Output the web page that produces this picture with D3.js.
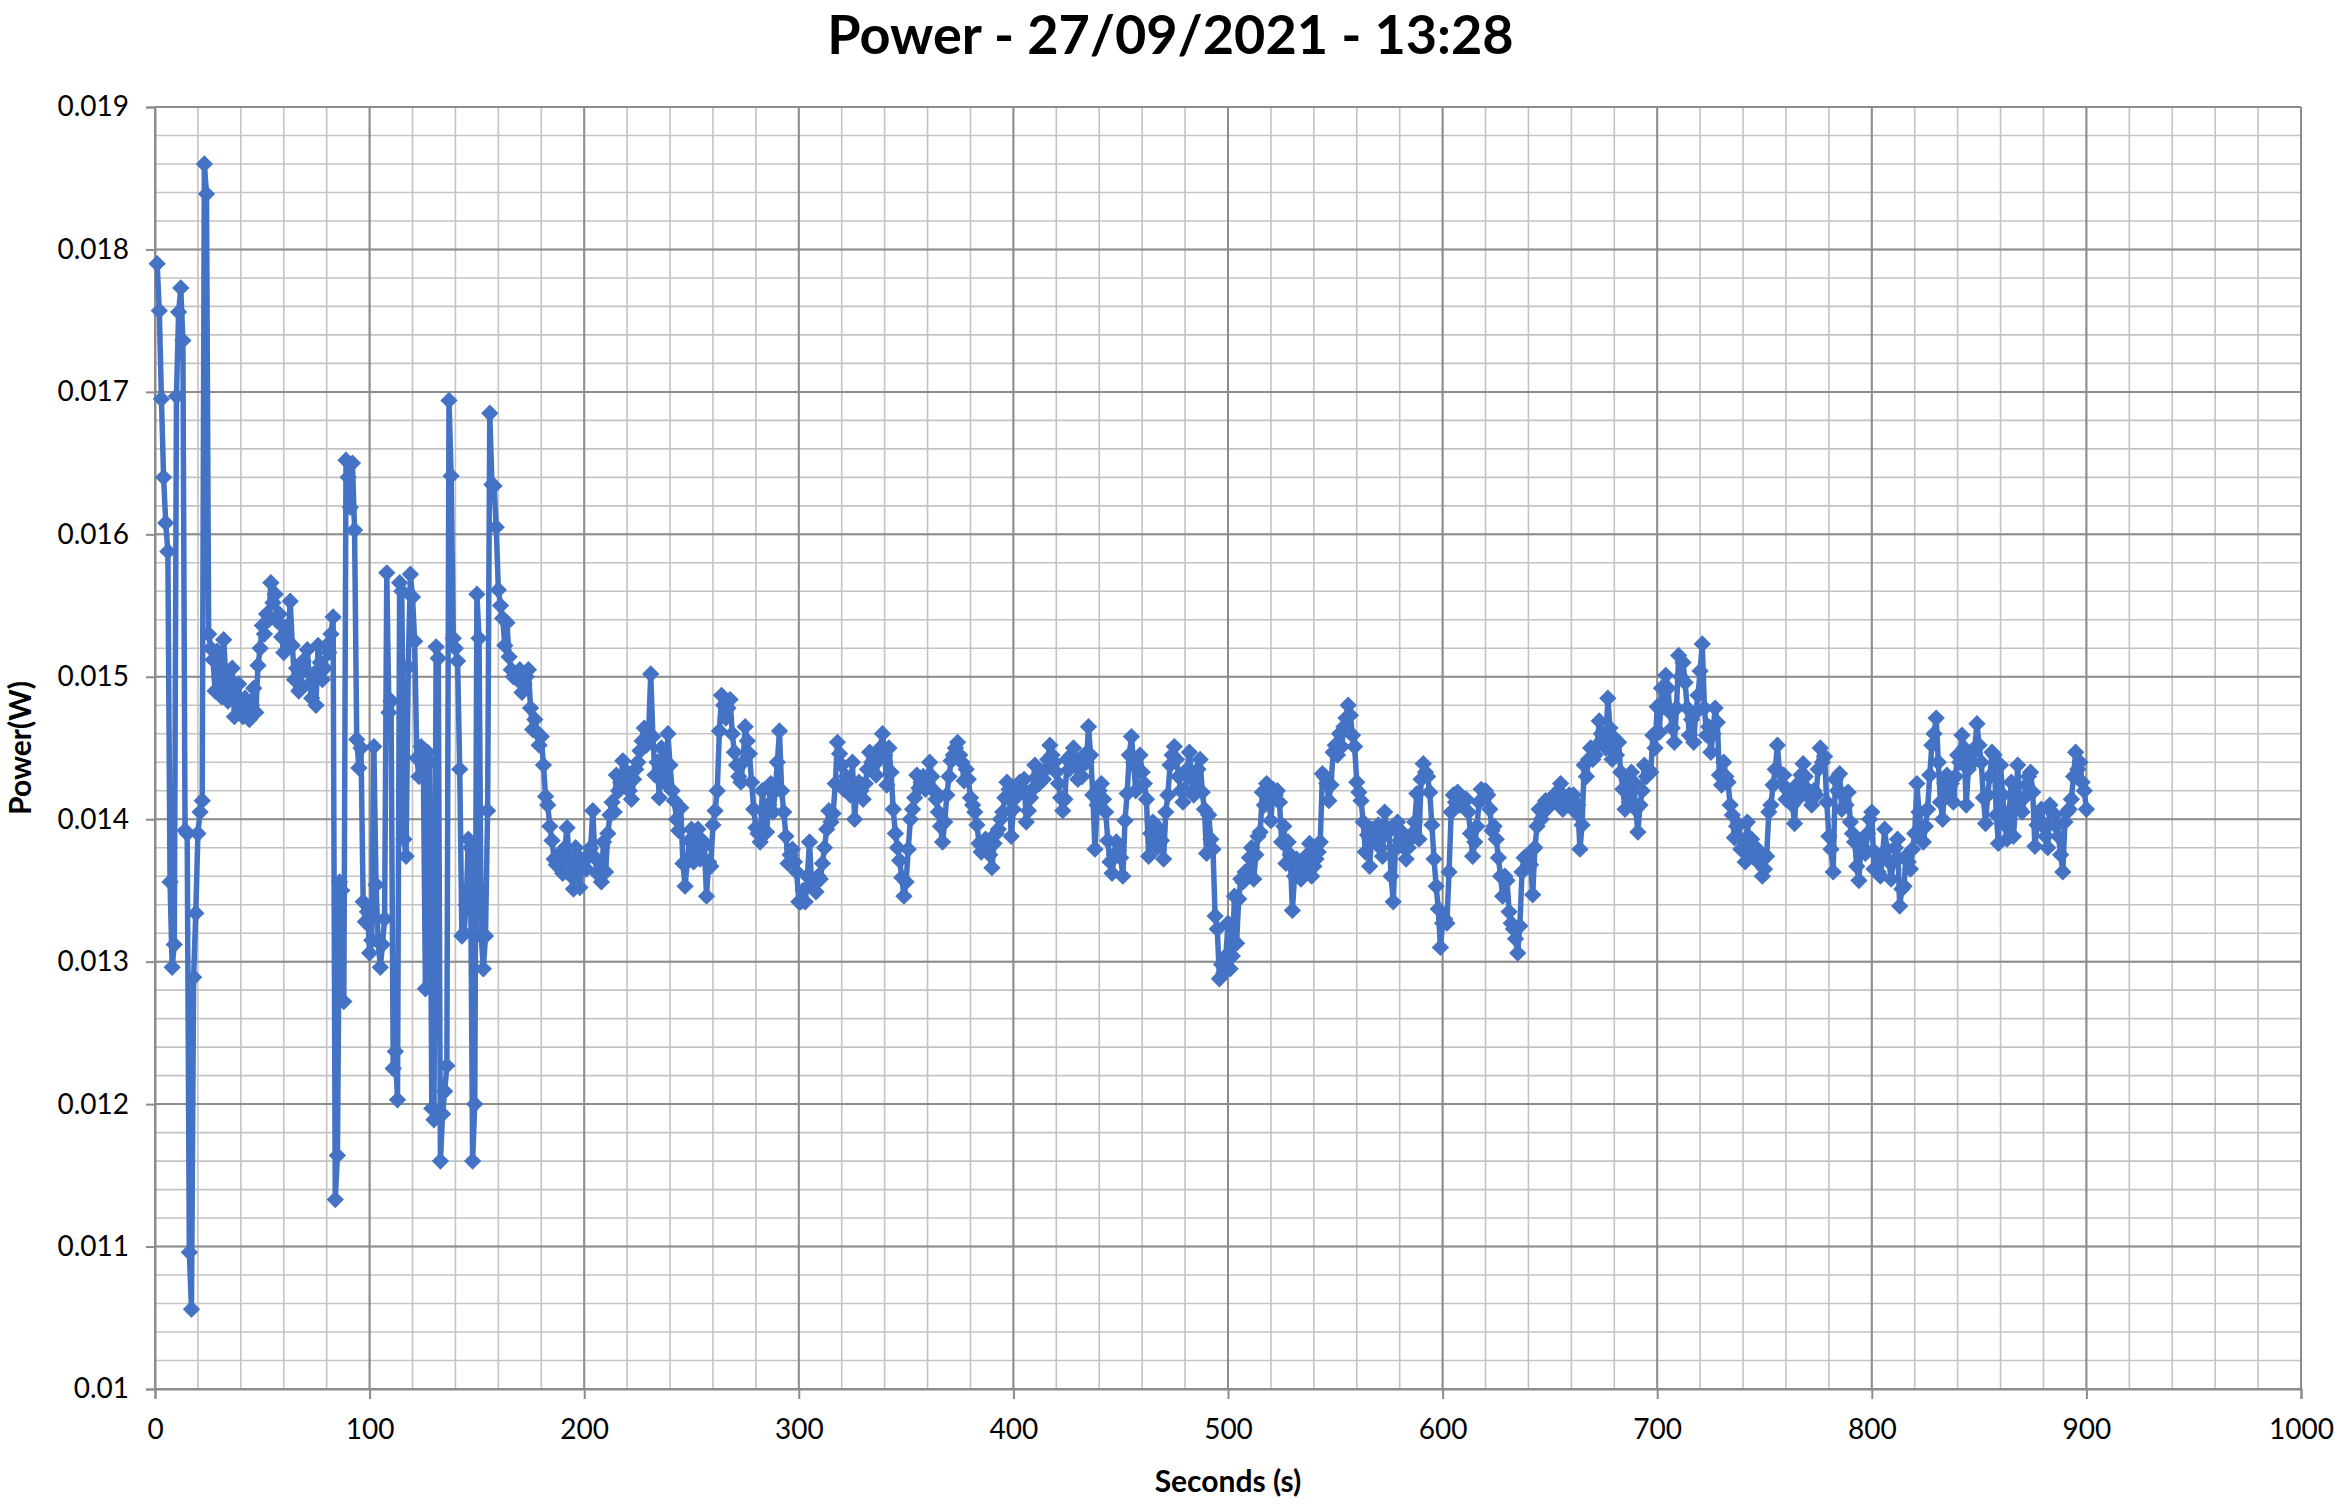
<!DOCTYPE html>
<html>
<head>
<meta charset="utf-8">
<script src="https://cdn.jsdelivr.net/npm/d3@7/dist/d3.min.js"></script>
<style>
  body { margin: 0; background: #fff; }
  text { font-family: Lato, "Open Sans", sans-serif; fill: #000; }
</style>
</head>
<body>
<div id="chart"></div>
<script>
// Power readings in mW, one reading per second, one array per 100 s block
var sec1to100 = [
  17.90, 17.57, 16.95, 16.40, 16.08, 15.88, 13.56, 12.96, 13.12, 16.97,
  17.56, 17.73, 17.36, 13.92, 13.90, 10.96, 10.56, 12.89, 13.34, 13.90,
  14.05, 14.13, 18.60, 18.39, 15.30, 15.20, 15.12, 14.90, 15.18, 15.05,
  14.86, 15.26, 15.00, 14.83, 14.98, 15.06, 14.72, 14.85, 14.95, 14.75,
  14.72, 14.85, 14.78, 14.70, 14.80, 14.92, 14.75, 15.08, 15.20, 15.36,
  15.30, 15.44, 15.40, 15.66, 15.52, 15.58, 15.39, 15.44, 15.28, 15.17,
  15.35, 15.25, 15.53, 15.22, 14.98, 15.06, 14.90, 14.92, 15.11, 15.05,
  15.19, 14.95, 14.85, 15.02, 14.80, 15.22, 15.10, 14.98, 15.06, 15.22,
  15.17, 15.30, 15.42, 11.33, 11.64, 13.56, 13.50, 12.72, 16.52, 16.40,
  16.19, 16.50, 16.03, 14.56, 14.36, 14.50, 13.42, 13.28, 13.35, 13.06
];
var sec101to200 = [
  13.15, 14.51, 13.54, 13.14, 12.96, 13.12, 13.30, 15.73, 14.75, 14.83,
  12.25, 12.37, 12.03, 15.66, 15.60, 13.86, 13.74, 15.07, 15.72, 15.56,
  15.25, 14.43, 14.30, 14.51, 14.45, 12.81, 14.47, 14.40, 11.97, 11.89,
  15.21, 15.13, 11.60, 11.93, 12.09, 12.27, 16.94, 16.41, 15.27, 15.20,
  15.11, 14.35, 13.18, 13.20, 13.40, 13.86, 13.80, 11.60, 12.00, 15.58,
  15.27, 13.18, 12.95, 13.18, 14.06, 16.85, 16.35, 16.34, 16.05, 15.61,
  15.50, 15.41, 15.22, 15.38, 15.14, 15.05, 15.00, 15.02, 14.98, 15.05,
  14.89, 14.95, 15.00, 15.05, 14.78, 14.63, 14.70, 14.61, 14.52, 14.58,
  14.38, 14.16, 14.10, 13.95, 13.85, 13.72, 13.68, 13.75, 13.66, 13.62,
  13.80, 13.94, 13.72, 13.60, 13.51, 13.80, 13.74, 13.52, 13.69, 13.72
];
var sec201to300 = [
  13.65, 13.74, 13.80, 14.06, 13.73, 13.62, 13.70, 13.56, 13.84, 13.63,
  13.90, 14.03, 14.12, 14.05, 14.31, 14.20, 14.26, 14.41, 14.30, 14.33,
  14.20, 14.14, 14.28, 14.35, 14.40, 14.48, 14.55, 14.64, 14.52, 14.60,
  15.02, 14.58, 14.31, 14.40, 14.15, 14.50, 14.30, 14.25, 14.60, 14.38,
  14.20, 14.13, 14.00, 13.92, 14.08, 13.69, 13.53, 13.70, 13.85, 13.93,
  13.70, 13.78, 13.93, 13.72, 13.85, 13.81, 13.46, 13.70, 13.67, 13.96,
  14.06, 14.20, 14.62, 14.87, 14.80, 14.71, 14.78, 14.84, 14.60, 14.47,
  14.38, 14.30, 14.26, 14.40, 14.65, 14.55, 14.46, 14.26, 14.07, 13.94,
  13.90, 13.84, 14.20, 14.05, 13.91, 14.10, 14.25, 14.05, 14.20, 14.40,
  14.62, 14.20, 14.05, 13.88, 13.69, 13.75, 13.79, 13.70, 13.63, 13.42
];
var sec301to400 = [
  13.42, 13.50, 13.42, 13.60, 13.84, 13.53, 13.55, 13.49, 13.60, 13.58,
  13.69, 13.80, 13.93, 14.06, 13.98, 14.04, 14.25, 14.54, 14.46, 14.38,
  14.21, 14.30, 14.25, 14.17, 14.40, 14.00, 14.20, 14.26, 14.20, 14.14,
  14.25, 14.35, 14.47, 14.40, 14.38, 14.31, 14.42, 14.50, 14.60, 14.45,
  14.24, 14.50, 14.33, 14.07, 13.90, 13.80, 13.71, 13.59, 13.46, 13.56,
  13.79, 14.00, 14.07, 14.15, 14.31, 14.22, 14.26, 14.30, 14.21, 14.28,
  14.40, 14.30, 14.20, 14.14, 14.05, 13.95, 13.84, 13.98, 14.17, 14.30,
  14.41, 14.45, 14.50, 14.54, 14.45, 14.40, 14.27, 14.35, 14.28, 14.15,
  14.10, 14.05, 13.96, 13.83, 13.77, 13.82, 13.86, 13.80, 13.75, 13.66,
  13.83, 13.90, 13.93, 14.00, 14.05, 14.15, 14.26, 14.21, 13.88, 14.07
];
var sec401to500 = [
  14.15, 14.20, 14.26, 14.22, 14.28, 13.98, 14.06, 14.15, 14.21, 14.38,
  14.30, 14.25, 14.32, 14.28, 14.35, 14.42, 14.52, 14.45, 14.40, 14.33,
  14.25, 14.15, 14.06, 14.14, 14.42, 14.35, 14.45, 14.50, 14.40, 14.28,
  14.38, 14.30, 14.45, 14.40, 14.65, 14.45, 14.17, 13.79, 14.10, 14.20,
  14.25, 14.14, 14.05, 13.85, 13.70, 13.62, 13.75, 13.84, 13.78, 13.73,
  13.60, 13.99, 14.18, 14.45, 14.58, 14.40, 14.20, 14.35, 14.45, 14.33,
  14.25, 14.14, 13.74, 13.90, 13.98, 13.85, 13.80, 13.93, 13.85, 13.72,
  14.05, 14.17, 14.38, 14.45, 14.51, 14.42, 14.30, 14.20, 14.12, 14.21,
  14.35, 14.47, 14.30, 14.17, 14.26, 14.35, 14.42, 14.19, 14.07, 13.76,
  14.03, 13.86, 13.79, 13.32, 13.23, 12.88, 12.98, 12.92, 13.04, 13.27
];
var sec501to600 = [
  12.95, 13.04, 13.46, 13.13, 13.44, 13.58, 13.56, 13.63, 13.60, 13.73,
  13.80, 13.58, 13.75, 13.88, 13.91, 14.19, 14.10, 14.25, 14.15, 13.99,
  14.21, 14.17, 14.20, 14.12, 13.84, 13.95, 13.69, 13.84, 13.75, 13.36,
  13.60, 13.72, 13.65, 13.58, 13.70, 13.63, 13.75, 13.83, 13.60, 13.67,
  13.72, 13.77, 13.84, 14.32, 14.30, 14.25, 14.13, 14.24, 14.47, 14.52,
  14.45, 14.60, 14.51, 14.65, 14.71, 14.80, 14.73, 14.59, 14.51, 14.26,
  14.19, 14.13, 13.98, 13.77, 13.89, 13.67, 13.93, 13.85, 13.84, 13.96,
  13.80, 13.74, 14.05, 13.90, 13.93, 13.60, 13.42, 13.79, 13.98, 13.85,
  13.91, 13.80, 13.72, 13.80, 13.86, 13.90, 13.98, 14.18, 13.86, 14.28,
  14.39, 14.33, 14.30, 14.19, 13.96, 13.72, 13.53, 13.37, 13.10, 13.27
];
var sec601to700 = [
  13.30, 13.27, 13.63, 14.05, 14.17, 14.12, 14.19, 14.10, 14.15, 14.12,
  14.14, 14.05, 13.90, 13.74, 13.84, 13.95, 14.12, 14.21, 14.15, 14.20,
  14.17, 14.07, 13.92, 13.95, 13.86, 13.73, 13.60, 13.46, 13.60, 13.57,
  13.35, 13.27, 13.23, 13.16, 13.06, 13.25, 13.63, 13.73, 13.74, 13.70,
  13.68, 13.47, 13.80, 13.95, 14.07, 14.00, 14.05, 14.13, 14.08, 14.10,
  14.15, 14.17, 14.12, 14.20, 14.25, 14.07, 14.15, 14.10, 14.17, 14.12,
  14.17, 14.05, 14.10, 13.79, 13.96, 14.38, 14.30, 14.42, 14.50, 14.42,
  14.45, 14.52, 14.69, 14.60, 14.57, 14.50, 14.85, 14.64, 14.42, 14.57,
  14.45, 14.54, 14.33, 14.21, 14.07, 14.28, 14.12, 14.33, 14.26, 14.07,
  13.91, 14.10, 14.20, 14.38, 14.30, 14.35, 14.33, 14.59, 14.50, 14.79
];
var sec701to800 = [
  14.61, 14.92, 14.79, 15.01, 14.92, 14.75, 14.64, 14.54, 14.78, 15.15,
  15.00, 15.10, 14.96, 14.78, 14.59, 14.70, 14.54, 14.75, 14.87, 15.04,
  15.23, 14.78, 14.59, 14.65, 14.47, 14.60, 14.78, 14.68, 14.31, 14.24,
  14.40, 14.30, 14.26, 14.10, 14.03, 13.87, 13.95, 13.96, 13.79, 13.85,
  13.70, 13.98, 13.81, 13.86, 13.75, 13.80, 13.70, 13.76, 13.60, 13.65,
  13.74, 14.05, 14.10, 14.24, 14.35, 14.52, 14.33, 14.25, 14.31, 14.14,
  14.20, 14.17, 14.10, 13.97, 14.24, 14.15, 14.31, 14.39, 14.30, 14.21,
  14.15, 14.10, 14.20, 14.17, 14.35, 14.50, 14.40, 14.44, 14.12, 13.88,
  13.79, 13.63, 14.28, 14.20, 14.32, 14.07, 14.17, 14.10, 14.19, 13.98,
  13.90, 13.84, 13.67, 13.57, 13.84, 13.80, 13.76, 13.90, 14.00, 14.05
];
var sec801to900 = [
  13.65, 13.76, 13.63, 13.60, 13.75, 13.93, 13.79, 13.70, 13.58, 13.70,
  13.80, 13.86, 13.39, 13.51, 13.53, 13.74, 13.70, 13.65, 13.79, 13.90,
  14.25, 14.05, 13.93, 13.84, 13.95, 14.07, 14.31, 14.52, 14.60, 14.71,
  14.40, 14.12, 14.00, 14.25, 14.31, 14.17, 14.25, 14.12, 14.30, 14.45,
  14.40, 14.59, 14.50, 14.10, 14.35, 14.45, 14.40, 14.50, 14.67, 14.52,
  14.40, 14.15, 13.97, 14.17, 14.30, 14.47, 14.45, 14.03, 13.83, 14.38,
  14.17, 13.96, 13.86, 14.05, 14.26, 13.88, 14.10, 14.38, 14.07, 14.05,
  14.15, 14.24, 14.30, 14.33, 14.19, 13.81, 13.96, 14.00, 14.07, 13.95,
  13.88, 13.80, 14.10, 14.05, 14.03, 13.95, 13.88, 13.75, 13.63, 13.98,
  14.05, 14.07, 14.14, 14.30, 14.47, 14.35, 14.40, 14.26, 14.20, 14.07
];

var xTicks = [0, 100, 200, 300, 400, 500, 600, 700, 800, 900, 1000];
var yTicks = [0.010, 0.011, 0.012, 0.013, 0.014, 0.015, 0.016, 0.017, 0.018, 0.019];
var yTickLabels = ["0.01", "0.011", "0.012", "0.013", "0.014", "0.015", "0.016", "0.017", "0.018", "0.019"];

var chartTitle = "Power - 27/09/2021 - 13:28";
var xTitle = "Seconds (s)";
var yTitle = "Power(W)";

const chartWidth = 2341;
const chartHeight = 1504;

const marginTop = 107;
const marginBottom = 115;
const marginLeft = 155;
const marginRight = 40;

const lineColor = "#4472C4";

function createChart() {

  // flatten the blocks into {sec, power} points, power back in W
  var blocks = [sec1to100, sec101to200, sec201to300, sec301to400, sec401to500,
                sec501to600, sec601to700, sec701to800, sec801to900];
  var dataset = [];
  blocks.forEach(function(block, b) {
    block.forEach(function(v, i) {
      dataset.push({ sec: b * 100 + i + 1, power: v / 1000 });
    });
  });

  var xScale = d3.scaleLinear()
                .domain([0, 1000])
                .range([marginLeft, chartWidth - marginRight]);

  var yScale = d3.scaleLinear()
                .domain([0.010, 0.019])
                .range([chartHeight - marginBottom, marginTop]);

  var svg = d3.select("#chart")
              .append("svg")
              .attr("width", chartWidth)
              .attr("height", chartHeight);

  svg.append("rect")
    .attr("width", chartWidth)
    .attr("height", chartHeight)
    .attr("fill", "#fff");

  // minor grid: every 20 s and every 0.0002 W
  var xMinor = d3.range(0, 51).map(function(i) { return i * 20; });
  var yMinor = d3.range(0, 46).map(function(i) { return 0.010 + i * 0.0002; });

  var grid = svg.append("g");

  grid.selectAll(".vminor")
    .data(xMinor)
    .enter()
    .append("line")
    .attr("x1", function(d) { return xScale(d); })
    .attr("x2", function(d) { return xScale(d); })
    .attr("y1", yScale(0.019))
    .attr("y2", yScale(0.010))
    .style("stroke", "#c3c3c3")
    .style("stroke-width", 1.6);

  grid.selectAll(".hminor")
    .data(yMinor)
    .enter()
    .append("line")
    .attr("x1", xScale(0))
    .attr("x2", xScale(1000))
    .attr("y1", function(d) { return yScale(d); })
    .attr("y2", function(d) { return yScale(d); })
    .style("stroke", "#c3c3c3")
    .style("stroke-width", 1.6);

  grid.selectAll(".vmajor")
    .data(xTicks)
    .enter()
    .append("line")
    .attr("x1", function(d) { return xScale(d); })
    .attr("x2", function(d) { return xScale(d); })
    .attr("y1", yScale(0.019))
    .attr("y2", yScale(0.010))
    .style("stroke", "#8c8c8c")
    .style("stroke-width", 2);

  grid.selectAll(".hmajor")
    .data(yTicks)
    .enter()
    .append("line")
    .attr("x1", xScale(0))
    .attr("x2", xScale(1000))
    .attr("y1", function(d) { return yScale(d); })
    .attr("y2", function(d) { return yScale(d); })
    .style("stroke", "#8c8c8c")
    .style("stroke-width", 2);

  var xAxis = d3.axisBottom()
              .scale(xScale)
              .tickValues(xTicks)
              .tickSize(10)
              .tickPadding(20)
              .tickFormat(d3.format("d"));

  var gx = svg.append("g")
    .attr("transform", "translate(0," + yScale(0.010) + ")")
    .call(xAxis);

  var yAxis = d3.axisLeft()
              .scale(yScale)
              .tickValues(yTicks)
              .tickSize(9)
              .tickPadding(17)
              .tickFormat(function(d, i) { return yTickLabels[i]; });

  var gy = svg.append("g")
    .attr("transform", "translate(" + xScale(0) + ",0)")
    .call(yAxis);

  [gx, gy].forEach(function(g) {
    g.select(".domain").style("stroke", "#8c8c8c").style("stroke-width", 2);
    g.selectAll(".tick line").style("stroke", "#8c8c8c").style("stroke-width", 2);
    g.selectAll(".tick text")
      .style("font-family", "Lato, 'Open Sans', sans-serif")
      .style("font-size", "28px")
      .style("fill", "#000");
  });

  // the series
  var line = d3.line()
    .x(function(d) { return xScale(d.sec); })
    .y(function(d) { return yScale(d.power); });

  svg.append("path")
    .datum(dataset)
    .attr("d", line)
    .style("fill", "none")
    .style("stroke", lineColor)
    .style("stroke-width", 5.5)
    .style("stroke-linejoin", "round");

  var diamond = d3.symbol().type(d3.symbolSquare).size(150);

  svg.selectAll(".marker")
    .data(dataset)
    .enter()
    .append("path")
    .attr("d", diamond)
    .attr("transform", function(d) {
      return "translate(" + xScale(d.sec) + "," + yScale(d.power) + ") rotate(45)";
    })
    .style("fill", lineColor);

  // titles
  svg.append("text")
    .attr("x", chartWidth / 2)
    .attr("y", 54)
    .style("text-anchor", "middle")
    .style("font-size", "54px")
    .style("font-weight", "bold")
    .text(chartTitle);

  svg.append("text")
    .attr("x", (xScale(0) + xScale(1000)) / 2)
    .attr("y", 1492)
    .style("text-anchor", "middle")
    .style("font-size", "30px")
    .style("font-weight", "bold")
    .text(xTitle);

  svg.append("text")
    .attr("transform", "translate(31," + (yScale(0.010) + yScale(0.019)) / 2 + ") rotate(-90)")
    .style("text-anchor", "middle")
    .style("font-size", "30px")
    .style("font-weight", "bold")
    .text(yTitle);
}

createChart();
</script>
</body>
</html>
